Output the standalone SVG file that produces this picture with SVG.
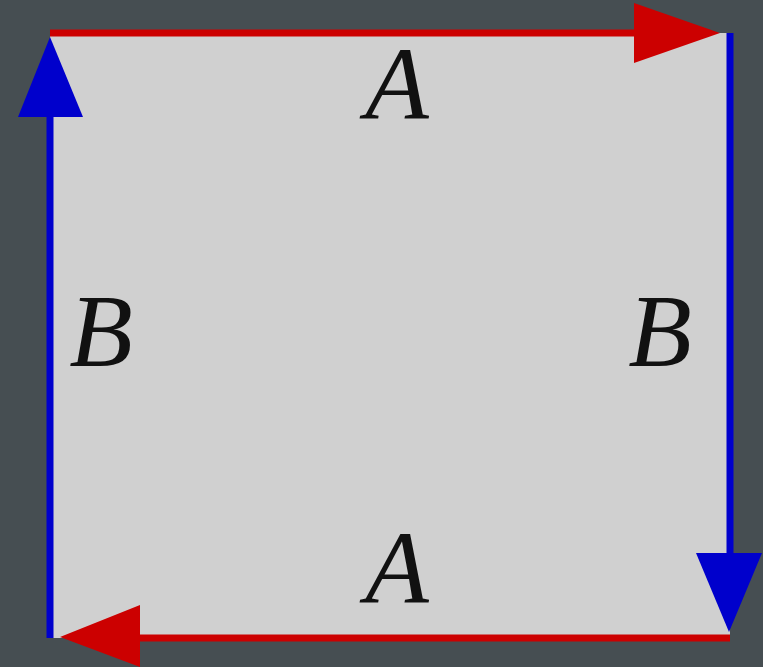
<svg xmlns="http://www.w3.org/2000/svg" width="763" height="667" viewBox="0 0 763 667">
<style>
.lbl{font-family:"Liberation Serif","DejaVu Serif",serif;font-style:italic;font-size:104px;fill:#111;text-anchor:middle}
.red{stroke:#cc0000;stroke-width:7;fill:none}
.blue{stroke:#0000cc;stroke-width:7;fill:none}
</style>
<rect width="763" height="667" fill="#464e52"/>
<g id="square"><rect x="50" y="33" width="680" height="605" fill="#d0d0d0"/></g>
<g id="connectors">
<line class="red" x1="50" y1="33" x2="690" y2="33"/>
<polygon points="720,33 634,3 634,63" fill="#cc0000"/>
<line class="blue" x1="730" y1="33" x2="730" y2="600"/>
<polygon points="729,632 696,553 762,553" fill="#0000cc"/>
<line class="red" x1="730" y1="638" x2="100" y2="638"/>
<polygon points="60,637 140,605 140,667" fill="#cc0000"/>
<line class="blue" x1="50" y1="638" x2="50" y2="80"/>
<polygon points="50,37 18,117 83,117" fill="#0000cc"/>
</g>
<g id="labelTop"><text class="lbl" x="397" y="119">A</text></g>
<g id="labelBottom"><text class="lbl" x="397" y="603">A</text></g>
<g id="labelLeft"><text class="lbl" x="101" y="366">B</text></g>
<g id="labelRight"><text class="lbl" x="660" y="366">B</text></g>
</svg>
